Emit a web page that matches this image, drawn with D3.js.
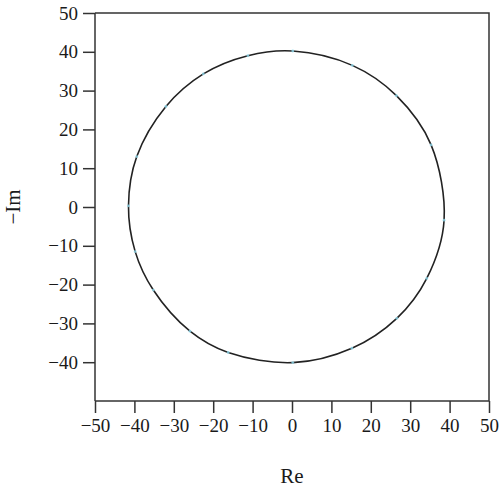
<!DOCTYPE html>
<html>
<head>
<meta charset="utf-8">
<script src="https://cdn.jsdelivr.net/npm/d3@7"></script>
<style>
body { margin: 0; background: #fff; }
text { font-family: "Liberation Serif", "DejaVu Serif", serif; }
</style>
</head>
<body>
<script>
var width = 500;
var height = 490;
var plotLeft = 95, plotRight = 489, plotTop = 13, plotBottom = 401;

// Nyquist points: Re and -Im
var reVals = [0.2, -11.2, -22.5, -32.0, -39.4, -41.5, -39.8, -35.2, -25.9, -16.2, 0.2, 15.2, 26.6, 34.2, 38.6, 35.3, 26.5, 15.3];
var negImVals = [40.2, 39.0, 34.3, 25.9, 13.0, 0.3, -11.5, -21.4, -32.0, -37.5, -40.1, -36.4, -28.7, -18.4, -3.4, 16.0, 28.7, 36.5];

var xTicks = [-50, -40, -30, -20, -10, 0, 10, 20, 30, 40, 50];
var yTicks = [50, 40, 30, 20, 10, 0, -10, -20, -30, -40];

var points = reVals.map(function(r, i) { return [r, negImVals[i]]; });

var svg = d3.select('body').append('svg')
    .attr('width', width)
    .attr('height', height);

var x = d3.scaleLinear().domain([-50, 50]).range([plotLeft, plotRight]);
var y = d3.scaleLinear().domain([-50, 50]).range([plotBottom, plotTop]);

var xAxis = d3.axisBottom(x).tickValues(xTicks).tickSize(12).tickPadding(6);
var yAxis = d3.axisLeft(y).tickValues(yTicks).tickSize(12).tickPadding(5);

var gx = svg.append('g').attr('transform', 'translate(0,' + plotBottom + ')').call(xAxis);
var gy = svg.append('g').attr('transform', 'translate(' + plotLeft + ',0)').call(yAxis);

gx.select('.domain').attr('d', 'M' + plotLeft + ',0H' + plotRight);
gy.select('.domain').attr('d', 'M0,' + plotTop + 'V' + plotBottom);

[gx, gy].forEach(function(g) {
  g.select('.domain').attr('stroke', '#333').attr('stroke-width', 1.5);
  g.selectAll('.tick line').attr('stroke', '#333').attr('stroke-width', 1.5);
  g.selectAll('.tick text').attr('fill', '#1a1a1a').attr('font-size', '19px')
    .style('font-family', '"Liberation Serif", serif');
});

// box top and right
svg.append('path')
  .attr('d', 'M' + plotLeft + ',' + plotTop + 'H' + plotRight + 'V' + plotBottom)
  .attr('fill', 'none')
  .attr('stroke', '#333')
  .attr('stroke-width', 1.5);

var line = d3.line()
  .x(function(d) { return x(d[0]); })
  .y(function(d) { return y(d[1]); })
  .curve(d3.curveCatmullRomClosed);

svg.append('path')
  .datum(points)
  .attr('d', line)
  .attr('fill', 'none')
  .attr('stroke', '#222')
  .attr('stroke-width', 1.6);

svg.selectAll('circle.pt')
  .data(points)
  .enter().append('circle')
  .attr('class', 'pt')
  .attr('cx', function(d) { return x(d[0]); })
  .attr('cy', function(d) { return y(d[1]); })
  .attr('r', 1.4)
  .attr('fill', '#8fd8ec')
  .attr('opacity', 0.8);

svg.append('text')
  .attr('x', 292)
  .attr('y', 483)
  .attr('text-anchor', 'middle')
  .attr('font-size', '21px')
  .attr('fill', '#1a1a1a')
  .text('Re');

svg.append('text')
  .attr('transform', 'translate(20,207) rotate(-90)')
  .attr('text-anchor', 'middle')
  .attr('font-size', '21px')
  .attr('fill', '#1a1a1a')
  .text('−Im');
</script>
</body>
</html>
